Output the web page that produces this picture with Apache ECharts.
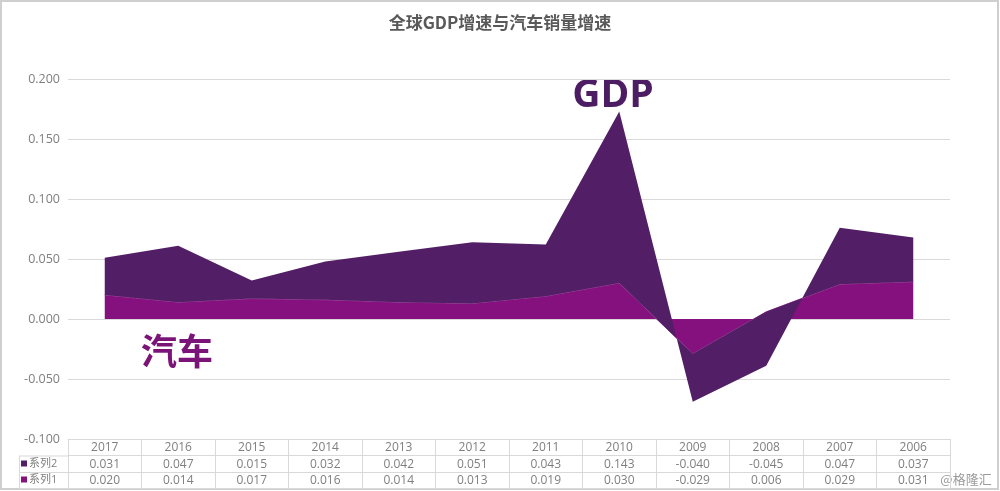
<!DOCTYPE html>
<html><head><meta charset="utf-8">
<script src="https://cdn.jsdelivr.net/npm/echarts@6/dist/echarts.min.js"></script>
<style>html,body{margin:0;padding:0;background:#fff}#c{width:1000px;height:491px}</style>
</head><body><div id="c"></div>
<script>
const years = ['2017','2016','2015','2014','2013','2012','2011','2010','2009','2008','2007','2006'];
const series2Values = [0.031,0.047,0.015,0.032,0.042,0.051,0.043,0.143,-0.040,-0.045,0.047,0.037];
const series1Values = [0.020,0.014,0.017,0.016,0.014,0.013,0.019,0.030,-0.029,0.006,0.029,0.031];
const seriesNames = ['系列1','系列2'];
const titleText = '全球GDP增速与汽车销量增速';

const DARK = '#521f66';
const PURPLE = '#85117f';
const GRID = '#d9d9d9';
const TXT = '#7f7f7f';
const FONT = '"Open Sans","Noto Sans CJK SC",sans-serif';

const chart = echarts.init(document.getElementById('c'), null, {renderer:'canvas'});
const baseX = {
  type:'category', data: years, position:'bottom', boundaryGap:true,
  splitLine:{show:false},
  axisLine:{show:true, onZero:false, lineStyle:{color:GRID, width:1}},
  axisTick:{show:false},
};
chart.setOption({
  animation:false,
  title:{text:titleText, left:'center', top:9,
    textStyle:{fontSize:17, fontWeight:'bold', color:'#595959', fontFamily:'"Noto Sans CJK SC",sans-serif'}},
  grid:{left:68, right:50, top:79, bottom:52, containLabel:false},
  legend:{show:true, orient:'vertical', left:21, top:457, itemWidth:6, itemHeight:6, itemGap:3,
    icon:'rect', data:['系列2','系列1'], padding:0,
    textStyle:{fontSize:11, color:TXT, fontFamily:FONT, padding:[0,0,0,-3], lineHeight:13}},
  xAxis:[
    Object.assign({}, baseX, {
      axisTick:{show:true, interval:0, length:49, alignWithLabel:false, lineStyle:{color:GRID}},
      axisLabel:{interval:0, margin:3, fontSize:12, color:TXT, fontFamily:FONT}
    }),
    Object.assign({}, baseX, {offset:16.5,
      axisLabel:{interval:0, margin:3, fontSize:12, color:TXT, fontFamily:FONT,
        formatter:(v,i)=>series2Values[i].toFixed(3)}}),
    Object.assign({}, baseX, {offset:33,
      axisLabel:{interval:0, margin:3, fontSize:12, color:TXT, fontFamily:FONT,
        formatter:(v,i)=>series1Values[i].toFixed(3)}}),
    Object.assign({}, baseX, {offset:49, axisLabel:{show:false}})
  ],
  yAxis:{type:'value', min:-0.1, max:0.2, interval:0.05,
    axisLine:{show:false}, axisTick:{show:false},
    splitLine:{lineStyle:{color:GRID, width:1}},
    axisLabel:{formatter:v=>v.toFixed(3), color:TXT, fontSize:12.5, margin:8, fontFamily:FONT}},
  series:[
    {name:seriesNames[0], type:'line', stack:'total', stackStrategy:'all', data:series1Values,
     symbol:'none', lineStyle:{width:1, color:'#9a3a96'}, itemStyle:{color:PURPLE},
     areaStyle:{color:PURPLE, opacity:1}, z:2},
    {name:seriesNames[1], type:'line', stack:'total', stackStrategy:'all', data:series2Values,
     symbol:'none', lineStyle:{width:0, color:DARK}, itemStyle:{color:DARK},
     areaStyle:{color:DARK, opacity:1}, z:3}
  ],
  graphic:[
    {type:'rect', shape:{x:1, y:1, width:997, height:488}, style:{fill:null, stroke:'#cfcfcf', lineWidth:2}, silent:true},
    {type:'line', shape:{x1:19, y1:456, x2:68, y2:456}, style:{stroke:GRID, lineWidth:1}},
    {type:'line', shape:{x1:19, y1:472.5, x2:68, y2:472.5}, style:{stroke:GRID, lineWidth:1}},
    {type:'line', shape:{x1:19, y1:488.5, x2:68, y2:488.5}, style:{stroke:GRID, lineWidth:1}},
    {type:'line', shape:{x1:19.5, y1:456, x2:19.5, y2:488.5}, style:{stroke:GRID, lineWidth:1}},
    {type:'text', x:613, y:96, style:{text:'GDP', fill:'#4c1d62', font:'bold 39px "Open Sans",sans-serif', textAlign:'center', textVerticalAlign:'middle'}},
    {type:'text', x:177, y:351, style:{text:'汽车', fill:'#7a1478', font:'bold 36px "Noto Sans CJK SC",sans-serif', textAlign:'center', textVerticalAlign:'middle'}},
    {type:'text', x:966, y:479, style:{text:'@格隆汇', fill:'#9a9a9a', font:'13px "Noto Sans CJK SC",sans-serif', textAlign:'center', textVerticalAlign:'middle'}}
  ]
});
</script></body></html>
